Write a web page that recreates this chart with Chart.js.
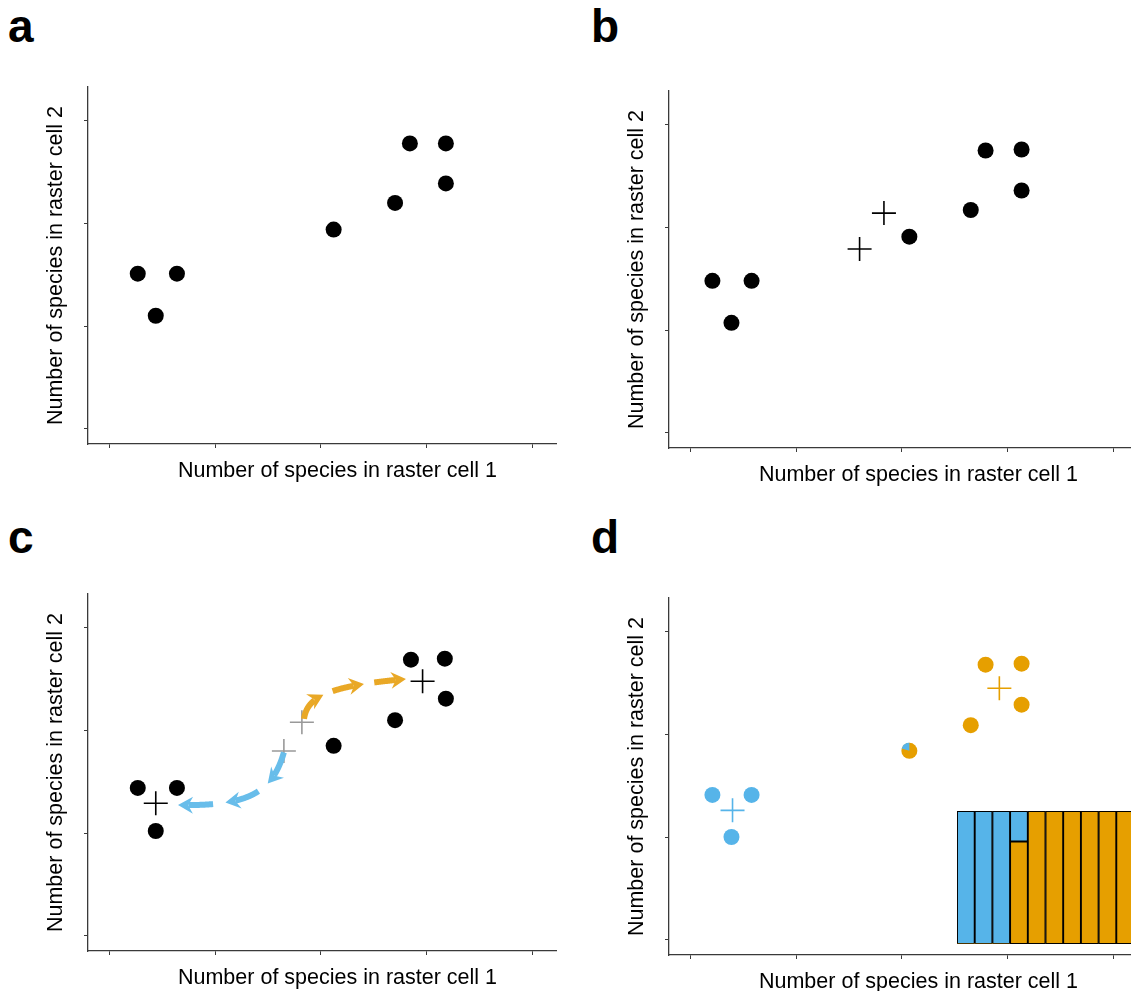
<!DOCTYPE html>
<html>
<head>
<meta charset="utf-8">
<script src="https://cdn.jsdelivr.net/npm/chart.js@4.4.0/dist/chart.umd.min.js"></script>
<style>
html, body { margin: 0; padding: 0; background: #fff; overflow: hidden; }
#page { position: relative; width: 1131px; height: 991px; overflow: hidden; }
#page canvas { position: absolute; }
.lab { position: absolute; font: bold 46px "Liberation Sans", Arial, Helvetica, sans-serif; line-height: 46px; color: #000; }
</style>
</head>
<body>
<div id="page">
  <div class="lab" style="left:8px;top:3px">a</div>
  <div class="lab" style="left:591px;top:3px">b</div>
  <div class="lab" style="left:8px;top:514px">c</div>
  <div class="lab" style="left:591px;top:514px">d</div>
  <canvas id="pa" width="570" height="490" style="left:0px;top:0px"></canvas>
  <canvas id="pb" width="570" height="490" style="left:581px;top:4px"></canvas>
  <canvas id="pc" width="570" height="490" style="left:0px;top:507px"></canvas>
  <canvas id="pd" width="570" height="490" style="left:581px;top:511px"></canvas>
  <canvas id="inset" width="177" height="133" style="left:957px;top:811px"></canvas>
</div>
<script>
// axis ranges / tick positions (no tick labels in the original)
var xTicks = [1, 2, 3, 4, 5];
var yTicks = [1, 2, 3, 4];
var xRange = [0.8, 5.22];
var yRange = [0.85, 4.33];

// panel a - species counts in the two raster cells
var aX = [1.27, 1.64, 1.44, 3.12, 3.70, 3.84, 4.18, 4.18];
var aY = [2.51, 2.51, 2.10, 2.94, 3.20, 3.78, 3.78, 3.39];

// panel b - same points + two starting centres
var bX = [1.21, 1.58, 1.39, 3.07, 3.65, 3.79, 4.13, 4.13];
var bY = [2.48, 2.48, 2.07, 2.91, 3.17, 3.75, 3.76, 3.36];
var bCentreX = [2.60, 2.83];
var bCentreY = [2.79, 3.14];

// panel c - centres moving to the cluster means
var cX = [1.27, 1.64, 1.44, 3.12, 3.70, 3.85, 4.17, 4.18];
var cY = [2.44, 2.44, 2.02, 2.85, 3.10, 3.69, 3.70, 3.31];
var cStartX = [2.65, 2.82];
var cStartY = [2.80, 3.08];
var cMeanX = [1.44, 3.96];
var cMeanY = [2.29, 3.48];
// arrow paths (bezier control points, data units)
var blueArrowX = [2.651, 2.537, 2.283, 1.650];
var blueArrowY = [2.790, 2.370, 2.263, 2.273];
var orangeArrowX = [2.840, 2.868, 3.038, 3.803];
var orangeArrowY = [3.111, 3.316, 3.433, 3.501];

// panel d - cluster membership
var dBlueX = [1.21, 1.58, 1.39];
var dBlueY = [2.41, 2.41, 2.00];
var dOrangeX = [3.65, 3.79, 4.13, 4.13];
var dOrangeY = [3.09, 3.68, 3.69, 3.29];
var dMixX = [3.07];
var dMixY = [2.84];
var dMixBlue = [0.2];
var dMeanX = [1.40, 3.92];
var dMeanY = [2.26, 3.45];

// inset: membership proportions
var members = ['1', '2', '3', '4', '5', '6', '7', '8', '9', '10'];
var blueShare = [1, 1, 1, 0.23, 0, 0, 0, 0, 0, 0];
var orangeShare = [0, 0, 0, 0.77, 1, 1, 1, 1, 1, 1];

var BLUE = '#56B4E9', ORANGE = '#E69F00', axisCol = '#3a3a3a';
var FONT = '"Liberation Sans", Arial, Helvetica, sans-serif';
Chart.defaults.font.family = FONT;

function toPts(xs, ys) {
    return xs.map(function (v, i) { return { x: v, y: ys[i] }; });
}

function dots(xs, ys, col) {
    return { data: toPts(xs, ys), pointRadius: 8, pointBorderWidth: 0,
             pointBackgroundColor: col, backgroundColor: col, borderColor: col };
}

function crosses(xs, ys, col) {
    return { data: toPts(xs, ys), pointStyle: 'cross', pointRadius: 12,
             pointBorderWidth: 1.6, pointBorderColor: col, borderColor: col };
}

function axisOpts(range, ticks, dir) {
    var o = {
        type: 'linear', min: range[0], max: range[1],
        afterBuildTicks: function (s) { s.ticks = ticks.map(function (v) { return { value: v }; }); },
        afterFit: function (s) { if (dir === 'x') s.height = 46; else s.width = 88; },
        ticks: { display: false },
        grid: { drawOnChartArea: false, drawTicks: true, tickLength: 4, color: axisCol, lineWidth: 1 },
        border: { display: true, color: axisCol, width: 1.3 }
    };
    if (dir === 'y') {
        o.title = { display: true, text: 'Number of species in raster cell 2', color: '#000',
                    font: { size: 21.5 }, padding: { top: 43, bottom: 0 } };
    }
    return o;
}

// x caption sits a little right of the plot centre in the original
var captionPlugin = {
    id: 'caption',
    afterDraw: function (chart, args, opts) {
        var a = chart.chartArea, ctx = chart.ctx;
        ctx.save();
        ctx.font = '21.5px ' + FONT;
        ctx.fillStyle = '#000';
        ctx.textAlign = 'center';
        ctx.textBaseline = 'alphabetic';
        ctx.fillText(opts.text, (a.left + a.right) / 2 + opts.dx, a.bottom + opts.dy);
        ctx.restore();
    }
};

function cubic(p, t) {
    var m = 1 - t;
    return [m*m*m*p[0][0] + 3*m*m*t*p[1][0] + 3*m*t*t*p[2][0] + t*t*t*p[3][0],
            m*m*m*p[0][1] + 3*m*m*t*p[1][1] + 3*m*t*t*p[2][1] + t*t*t*p[3][1]];
}

// dashed curved arrows, every dash ends in a head
var arrowPlugin = {
    id: 'arrows',
    afterDatasetsDraw: function (chart, args, opts) {
        var xs = chart.scales.x, ys = chart.scales.y, ctx = chart.ctx;
        opts.curves.forEach(function (c) {
            var p = c.x.map(function (v, i) { return [xs.getPixelForValue(v), ys.getPixelForValue(c.y[i])]; });
            var samp = [], len = 0, N = 300;
            for (var i = 0; i <= N; i++) {
                var q = cubic(p, i / N);
                if (i > 0) len += Math.hypot(q[0] - samp[i-1][0], q[1] - samp[i-1][1]);
                samp.push([q[0], q[1], len]);
            }
            function at(d) {
                for (var j = 1; j < samp.length; j++) if (samp[j][2] >= d) return samp[j];
                return samp[samp.length - 1];
            }
            var dash = (len - c.gap * (c.n - 1)) / c.n;
            ctx.save();
            ctx.strokeStyle = c.color; ctx.fillStyle = c.color;
            ctx.lineWidth = 6; ctx.lineCap = 'butt'; ctx.lineJoin = 'round';
            for (var k = 0; k < c.n; k++) {
                var s = k * (dash + c.gap), e = s + dash;
                ctx.beginPath();
                var first = at(s);
                ctx.moveTo(first[0], first[1]);
                for (var j = 0; j < samp.length; j++) {
                    if (samp[j][2] > s && samp[j][2] < e - 10) ctx.lineTo(samp[j][0], samp[j][1]);
                }
                ctx.stroke();
                var tip = at(e), back = at(e - 4);
                var dx = tip[0] - back[0], dy = tip[1] - back[1], dl = Math.hypot(dx, dy);
                dx /= dl; dy /= dl;
                var hl = 15, hw = 8.5;
                ctx.beginPath();
                ctx.moveTo(tip[0], tip[1]);
                ctx.lineTo(tip[0] - dx*hl - dy*hw, tip[1] - dy*hl + dx*hw);
                ctx.lineTo(tip[0] - dx*hl*0.68, tip[1] - dy*hl*0.68);
                ctx.lineTo(tip[0] - dx*hl + dy*hw, tip[1] - dy*hl - dx*hw);
                ctx.closePath();
                ctx.fill();
            }
            ctx.restore();
        });
    }
};

// blue wedge on the mixed point
var piePlugin = {
    id: 'pies',
    afterDatasetsDraw: function (chart, args, opts) {
        var meta = chart.getDatasetMeta(opts.index), ctx = chart.ctx;
        meta.data.forEach(function (el, i) {
            var f = opts.shares[i];
            ctx.save();
            ctx.beginPath();
            ctx.moveTo(el.x, el.y);
            ctx.arc(el.x, el.y, 8, -Math.PI / 2, -Math.PI / 2 - f * 2 * Math.PI, true);
            ctx.closePath();
            ctx.fillStyle = BLUE;
            ctx.fill();
            ctx.restore();
        });
    }
};

function scatterPanel(id, datasets, plugins, pluginOpts) {
    var pl = { legend: { display: false }, tooltip: { enabled: false },
               caption: { text: 'Number of species in raster cell 1', dx: 15.5, dy: 33 } };
    for (var k in (pluginOpts || {})) pl[k] = pluginOpts[k];
    return new Chart(document.getElementById(id), {
        type: 'scatter',
        data: { datasets: datasets },
        options: {
            responsive: false, animation: false, events: [],
            layout: { padding: { top: 87, right: 14, bottom: 0, left: 0 } },
            plugins: pl,
            scales: {
                x: axisOpts(xRange, xTicks, 'x'),
                y: axisOpts(yRange, yTicks, 'y')
            }
        },
        plugins: [captionPlugin].concat(plugins || [])
    });
}

scatterPanel('pa', [dots(aX, aY, '#000')]);

scatterPanel('pb', [crosses(bCentreX, bCentreY, '#000'), dots(bX, bY, '#000')]);

scatterPanel('pc', [
    crosses(cMeanX, cMeanY, '#000'),
    crosses(cStartX, cStartY, '#999999'),
    dots(cX, cY, '#000')
], [arrowPlugin], {
    arrows: { curves: [
        { x: blueArrowX, y: blueArrowY, color: '#68BDEA', n: 3, gap: 12 },
        { x: orangeArrowX, y: orangeArrowY, color: '#E9A826', n: 3, gap: 10 }
    ] }
});

scatterPanel('pd', [
    crosses([dMeanX[0]], [dMeanY[0]], BLUE),
    crosses([dMeanX[1]], [dMeanY[1]], ORANGE),
    dots(dBlueX, dBlueY, BLUE),
    dots(dOrangeX, dOrangeY, ORANGE),
    dots(dMixX, dMixY, ORANGE)
], [piePlugin], { pies: { index: 4, shares: dMixBlue } });

function edge(ctx) { return ctx.raw > 0 ? 1.3 : 0; }

new Chart(document.getElementById('inset'), {
    type: 'bar',
    data: {
        labels: members,
        datasets: [
            { data: orangeShare, backgroundColor: ORANGE, borderColor: '#000', borderWidth: edge,
              borderSkipped: false, barPercentage: 1, categoryPercentage: 1 },
            { data: blueShare, backgroundColor: BLUE, borderColor: '#000', borderWidth: edge,
              borderSkipped: false, barPercentage: 1, categoryPercentage: 1 }
        ]
    },
    options: {
        responsive: false, animation: false, events: [],
        layout: { padding: 0 },
        plugins: { legend: { display: false }, tooltip: { enabled: false } },
        scales: {
            x: { stacked: true, display: false },
            y: { stacked: true, display: false, min: 0, max: 1 }
        }
    }
});
</script>
</body>
</html>
